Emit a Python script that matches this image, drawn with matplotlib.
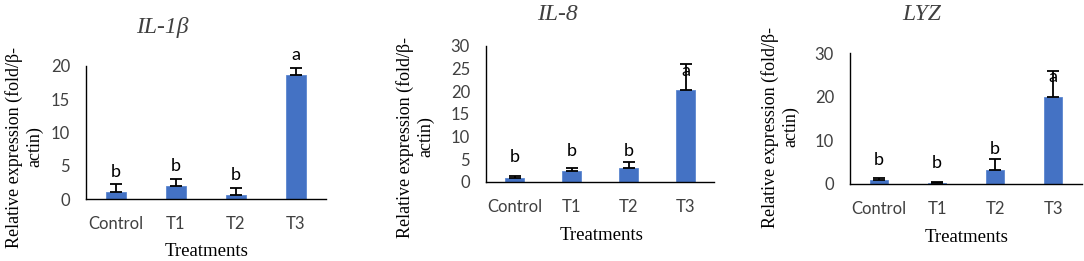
import numpy as np
import matplotlib.pyplot as plt

treatments = ['Control', 'T1', 'T2', 'T3']

il1b_mean = [1.05, 2.0, 0.6, 18.6]
il1b_err = [1.15, 1.0, 1.0, 1.1]
il1b_letters = ['b', 'b', 'b', 'a']
il1b_letter_y = [4.1, 5.0, 3.6, 21.7]

il8_mean = [0.9, 2.4, 3.1, 20.2]
il8_err = [0.5, 0.7, 1.3, 5.9]
il8_letters = ['b', 'b', 'b', 'a']
il8_letter_y = [5.5, 6.8, 6.8, 24.5]

lyz_mean = [0.9, 0.3, 3.3, 19.9]
lyz_err = [0.4, 0.2, 2.5, 6.0]
lyz_letters = ['b', 'b', 'b', 'a']
lyz_letter_y = [5.5, 4.8, 8.0, 24.5]

bar_color = '#4472C4'
sans = 'Lato'
serif = 'Liberation Serif'

fig = plt.figure(figsize=(10.84, 2.61), dpi=100)
W, H = 1084, 261


def px_axes(left, right, top, bottom):
    return fig.add_axes([left / W, (H - bottom) / H, (right - left) / W, (bottom - top) / H])


def panel(ax, means, errs, letters, letter_y, ymax, yticks):
    x = np.arange(len(treatments))
    ax.bar(x, means, width=0.32, color=bar_color, edgecolor='#5B86D0', linewidth=0.6, zorder=2)
    ax.errorbar(x, means, yerr=[np.zeros(len(errs)), errs], fmt='none', ecolor='black',
                elinewidth=1.3, capsize=4, capthick=1.3, zorder=3)
    for xi, lab, ly in zip(x, letters, letter_y):
        ax.text(xi, ly, lab, ha='center', va='center', fontsize=13, family=sans, clip_on=False)
    ax.set_xlim(-0.5, len(treatments) - 0.5)
    ax.set_ylim(0, ymax)
    ax.set_yticks(yticks)
    ax.set_xticks(x)
    ax.set_xticklabels(treatments)
    for s in ['top', 'right']:
        ax.spines[s].set_visible(False)
    ax.spines['left'].set_linewidth(1.0)
    ax.spines['bottom'].set_linewidth(1.0)
    ax.tick_params(axis='both', length=0, labelsize=12, colors='#404040')
    ax.tick_params(axis='y', pad=11.5)
    ax.tick_params(axis='x', pad=12)
    for t in ax.get_xticklabels() + ax.get_yticklabels():
        t.set_family(sans)


ax1 = px_axes(86, 326, 66, 199)
panel(ax1, il1b_mean, il1b_err, il1b_letters, il1b_letter_y, 20, [0, 5, 10, 15, 20])

ax2 = px_axes(486, 714, 46, 182)
panel(ax2, il8_mean, il8_err, il8_letters, il8_letter_y, 30, [0, 5, 10, 15, 20, 25, 30])

ax3 = px_axes(850, 1082, 53, 184)
panel(ax3, lyz_mean, lyz_err, lyz_letters, lyz_letter_y, 30, [0, 10, 20, 30])

ylab = 'Relative expression (fold/β-\nactin)'
for title, tx, ty, yx, yy, xx, xy in [
    ('IL-1β', 162, 28, 24, 147, 207, 251),
    ('IL-8', 557, 15, 415, 137, 602, 236),
    ('LYZ', 922, 15, 780, 127, 967, 238),
]:
    fig.text(tx / W, 1 - ty / H, title, ha='center', va='center', fontsize=17,
             family=serif, style='italic', color='#404040')
    fig.text(yx / W, 1 - yy / H, ylab, ha='center', va='center', rotation=90,
             fontsize=13, family=serif, linespacing=1.2)
    fig.text(xx / W, 1 - xy / H, 'Treatments', ha='center', va='center',
             fontsize=13.5, family=serif)

fig.savefig('out.png', dpi=100)
